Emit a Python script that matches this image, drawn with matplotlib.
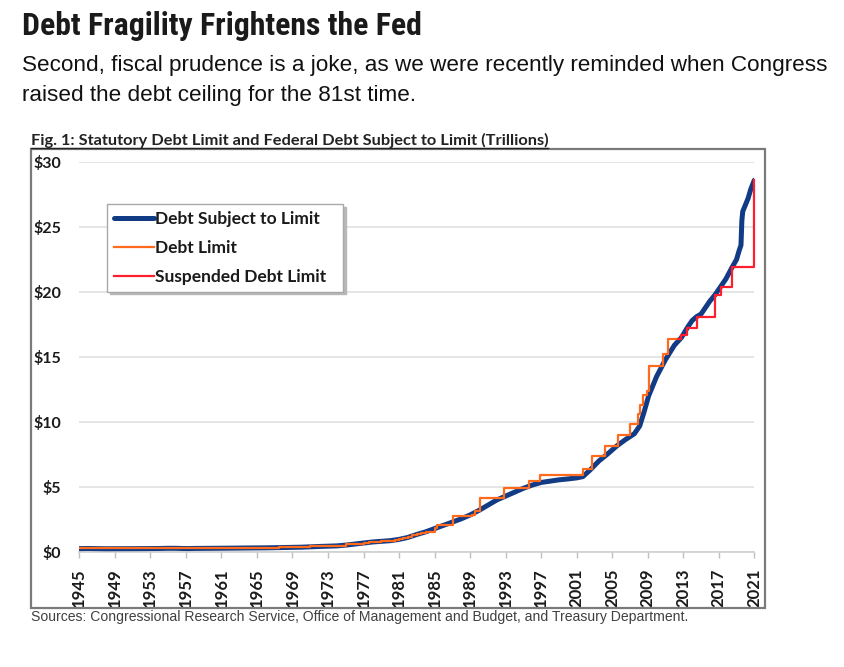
import matplotlib
matplotlib.use("Agg")
import matplotlib.pyplot as plt
from matplotlib import font_manager
from matplotlib.font_manager import FontProperties
from matplotlib.patches import Rectangle
from matplotlib.lines import Line2D

# ---------------- data ----------------
debt_years = [1945.0, 1946.0, 1948.0, 1950.0, 1952.0, 1954.0, 1955.0, 1955.8, 1956.6, 1957.3,
              1958.0, 1960.0, 1962.0, 1964.0, 1966.0, 1968.0, 1970.0, 1972.0, 1974.0, 1975.0,
              1976.0, 1977.0, 1978.0, 1979.0, 1980.0, 1981.0, 1982.0, 1983.0, 1984.0, 1985.0,
              1986.0, 1987.0, 1988.0, 1989.0, 1990.0, 1991.0, 1992.0, 1993.0, 1994.0, 1995.0,
              1996.0, 1997.0, 1998.0, 1999.0, 2000.0, 2001.0, 2001.7, 2002.5, 2003.5, 2004.5,
              2005.5, 2006.5, 2007.5, 2008.1, 2008.6, 2009.1, 2010.0, 2011.0, 2012.0, 2012.8,
              2013.5, 2014.0, 2014.5, 2015.0, 2015.5, 2016.0, 2016.6, 2017.2, 2017.8, 2018.5,
              2019.0, 2019.3, 2019.5, 2019.6, 2019.7, 2020.0, 2020.3, 2020.6, 2021.0]
debt_values = [0.26, 0.27, 0.25, 0.255, 0.26, 0.27, 0.285, 0.285, 0.27, 0.265,
               0.275, 0.285, 0.295, 0.31, 0.32, 0.345, 0.37, 0.425, 0.47, 0.53,
               0.61, 0.69, 0.77, 0.82, 0.87, 0.97, 1.12, 1.35, 1.55, 1.80,
               2.05, 2.30, 2.55, 2.85, 3.20, 3.60, 4.00, 4.30, 4.60, 4.90,
               5.15, 5.35, 5.45, 5.55, 5.62, 5.70, 5.80, 6.30, 7.00, 7.55,
               8.15, 8.65, 9.10, 9.70, 10.8, 12.0, 13.5, 14.8, 15.9, 16.5,
               17.3, 17.8, 18.1, 18.3, 18.8, 19.3, 19.8, 20.4, 21.0, 21.9,
               22.5, 23.2, 23.6, 25.5, 26.2, 26.7, 27.2, 27.9, 28.6]

limit_years = [1945.0, 1946.0, 1954.0, 1956.0, 1957.6, 1958.1, 1959.0, 1960.0, 1961.0, 1962.0,
               1963.0, 1964.0, 1965.0, 1966.0, 1967.0, 1967.5, 1969.0, 1970.5, 1971.0, 1972.2,
               1973.0, 1974.0, 1975.0, 1976.0, 1977.0, 1977.6, 1978.2, 1979.0, 1980.0, 1980.5,
               1981.0, 1981.5, 1982.0, 1982.5, 1983.0, 1983.5, 1984.0, 1985.0, 1985.3, 1986.0,
               1987.1, 1989.2, 1989.6, 1990.1, 1992.8, 1995.6, 1996.9, 2001.7, 2002.7, 2004.2,
               2005.6, 2007.0, 2007.9, 2008.1, 2008.5, 2008.9, 2009.2, 2010.7, 2011.3, 2012.4]
limit_values = [0.300, 0.275, 0.281, 0.278, 0.280, 0.288, 0.295, 0.293, 0.298, 0.308,
                0.309, 0.324, 0.328, 0.330, 0.336, 0.358, 0.377, 0.395, 0.430, 0.450,
                0.475, 0.495, 0.577, 0.636, 0.700, 0.752, 0.798, 0.830, 0.879, 0.935,
                0.985, 1.079, 1.143, 1.290, 1.389, 1.490, 1.573, 1.824, 2.079, 2.111,
                2.800, 2.870, 3.123, 4.145, 4.900, 5.500, 5.950, 6.400, 7.384, 8.184,
                8.965, 9.815, 10.615, 11.315, 12.104, 12.394, 14.294, 15.194, 16.394, 16.394]

susp_years = [2012.4, 2012.8, 2013.4, 2014.5, 2016.6, 2017.2, 2018.5, 2021.0]
susp_values = [16.394, 16.7, 17.2, 18.1, 19.8, 20.4, 21.9, 28.6]

x_ticks = list(range(1945, 2022, 4))
y_ticks = [0, 5, 10, 15, 20, 25, 30]
y_labels = ["$0", "$5", "$10", "$15", "$20", "$25", "$30"]

title = "Debt Fragility Frightens the Fed"
subtitle1 = "Second, fiscal prudence is a joke, as we were recently reminded when Congress"
subtitle2 = "raised the debt ceiling for the 81st time."
fig_title = "Fig. 1: Statutory Debt Limit and Federal Debt Subject to Limit (Trillions)"
source = "Sources: Congressional Research Service, Office of Management and Budget, and Treasury Department."

# ---------------- fonts ----------------
flist = font_manager.fontManager.ttflist
names = {f.name for f in flist}
def pick(*cands):
    for c in cands:
        if c in names:
            return c
    return "DejaVu Sans"

chart_font = pick("Lato", "Open Sans", "Liberation Sans")
arial = pick("Liberation Sans", "DejaVu Sans")

def wnum(w):
    if isinstance(w, int):
        return w
    return font_manager.weight_dict.get(w, 400)

cands = []
for f in flist:
    nm = (f.name + " " + f.fname).lower()
    narrowish = ("condensed" in nm or "narrow" in nm or
                 str(f.stretch) in ("condensed", "semi-condensed", "extra-condensed"))
    if narrowish and wnum(f.weight) >= 600 and "italic" not in f.style and "oblique" not in f.style \
            and "oblique" not in nm and "italic" not in nm:
        cands.append(f)
if cands:
    def rank(f):
        nm = f.name.lower()
        order = ["roboto", "open sans", "liberation", "noto", "dejavu"]
        for i, o in enumerate(order):
            if o in nm:
                return i
        return 9
    cands.sort(key=rank)
    title_prop = FontProperties(fname=cands[0].fname)
else:
    title_prop = FontProperties(family="DejaVu Sans", weight="bold")

W, H = 845, 667
fig = plt.figure(figsize=(W / 100, H / 100), dpi=100)
fig.patch.set_facecolor("white")
renderer = fig.canvas.get_renderer()

def fx(px):
    return px / W

def fy(py):
    return 1 - py / H

def fit(x, y, s, width, size, **kw):
    t = fig.text(fx(x), fy(y), s, fontsize=size, va="baseline", ha="left", **kw)
    w = t.get_window_extent(renderer).width
    t.set_fontsize(size * width / w)
    return t

tt = fig.text(fx(22), fy(35), title, va="baseline", ha="left", color="#1a1a1a",
              fontproperties=title_prop)
tt.set_fontsize(26)
w = tt.get_window_extent(renderer).width
tt.set_fontsize(min(27, 26 * 401 / w))

fit(22, 71, subtitle1, 804, 15, family=arial, color="#111111")
fig.text(fx(22), fy(101), subtitle2, fontsize=fig.texts[-1].get_fontsize(),
         family=arial, color="#111111", va="baseline", ha="left")

fit(31, 145, fig_title, 517, 10, family=chart_font, weight="bold", color="#222222")
fig.add_artist(Line2D([fx(31), fx(548)], [fy(147.5), fy(147.5)], color="#222222", lw=1.0))

fig.add_artist(Rectangle((fx(31), fy(608)), fx(765) - fx(31), fy(149) - fy(608),
                         transform=fig.transFigure, fill=False, edgecolor="#7a7a7a", lw=1.6))

fit(31, 621, source, 658, 9, family=arial, color="#404040")

# ---------------- axes ----------------
ax = fig.add_axes([fx(79.3), fy(552), fx(754.3) - fx(79.3), fy(162) - fy(552)])
ax.set_xlim(1945, 2021)
ax.set_ylim(0, 30)
ax.set_facecolor("none")
for s in ["top", "right", "left"]:
    ax.spines[s].set_visible(False)
ax.spines["bottom"].set_color("#cfcfcf")
ax.spines["bottom"].set_linewidth(1.2)
ax.set_yticks(y_ticks)
ax.set_yticklabels(y_labels)
ax.set_xticks(x_ticks)
ax.set_xticklabels([str(v) for v in x_ticks], rotation=90)
ax.tick_params(axis="y", length=0, pad=13, labelsize=11.5, labelcolor="#1a1a1a")
ax.tick_params(axis="x", length=4, width=1, color="#bfbfbf", pad=8, labelsize=12,
               labelcolor="#1a1a1a")
for lab in ax.get_xticklabels() + ax.get_yticklabels():
    lab.set_fontfamily(chart_font)
    lab.set_fontweight("bold")
for lab in ax.get_yticklabels():
    lab.set_ha("right")
ax.grid(axis="y", color="#e3e3e3", lw=1.3)
ax.set_axisbelow(True)

ax.plot(debt_years, debt_values, color="#123b85", lw=3.6, solid_capstyle="round",
        solid_joinstyle="round", label="Debt Subject to Limit", zorder=3)
ax.plot(limit_years, limit_values, color="#ff6a1c", lw=1.6, drawstyle="steps-post",
        label="Debt Limit", zorder=4)
ax.plot(susp_years, susp_values, color="#ff1e2d", lw=1.6, drawstyle="steps-post",
        label="Suspended Debt Limit", zorder=5, clip_on=False)

leg = ax.legend(loc="upper left",
                bbox_to_anchor=(fx(107), fy(292), fx(343) - fx(107), fy(204) - fy(292)),
                mode="expand",
                bbox_transform=fig.transFigure, borderaxespad=0, frameon=True,
                shadow={"color": "#b8b8b8", "alpha": 1.0}, fancybox=False,
                handlelength=2.3, handletextpad=0.08,
                labelspacing=0.76, borderpad=0.38, prop=dict(family=chart_font,
                weight="bold", size=12.5))
leg.get_frame().set_edgecolor("#a8a8a8")
leg.get_frame().set_linewidth(1.0)
for t in leg.get_texts():
    t.set_color("#1a1a1a")

fig.savefig("out.png", dpi=100, facecolor="white")
